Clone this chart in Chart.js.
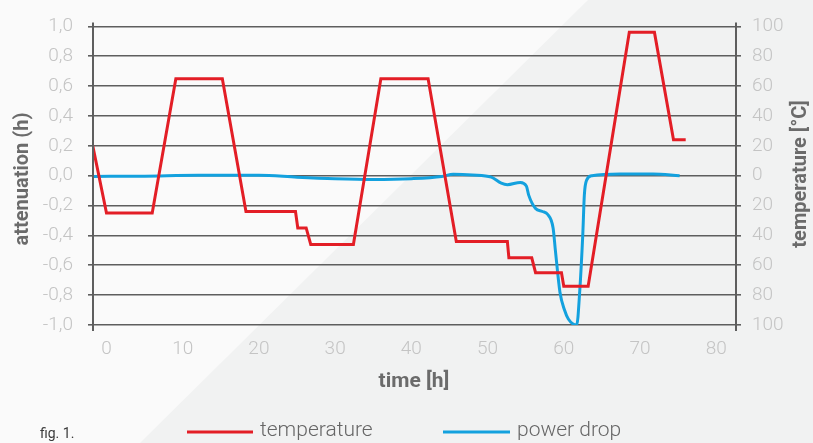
<!DOCTYPE html>
<html>
<head>
<meta charset="utf-8">
<script src="https://cdn.jsdelivr.net/npm/chart.js@4.4.1/dist/chart.umd.min.js"></script>
<style>
  html, body { margin: 0; padding: 0; background: #f7f7f7; }
  #wrap { width: 813px; height: 443px; position: relative; }
</style>
</head>
<body>
<div id="wrap"><canvas id="c" width="813" height="443"></canvas></div>
<script>
// ---- data ----
const tempHours  = [-1.8, 0, 6, 9.1, 15.2, 18.3, 24.8, 25.1, 26.2, 26.8, 32.4, 36.0, 42.2, 45.9, 52.6, 52.8, 55.8, 56.3, 59.7, 60.0, 63.2, 68.6, 71.9, 74.4, 76.0];
const tempValues = [20, -25, -25, 65, 65, -24, -24, -35, -35, -46, -46, 65, 65, -44, -44, -55, -55, -65, -65, -74, -74, 96, 96, 24, 24];

const powerHours  = [-1.8, 5, 12, 20, 25, 30, 35, 40, 44, 45.5, 48, 50.5, 51.8, 52.6, 54.3, 55.1, 55.4, 56.3, 57.2, 57.9, 58.6, 58.9, 59.5, 60.1, 60.6, 61.7, 62.1, 62.5, 62.7, 63.0, 63.7, 67.4, 71.7, 75.2];
const powerValues = [-0.005, -0.003, 0.003, 0.003, -0.01, -0.02, -0.025, -0.02, -0.005, 0.01, 0.005, -0.01, -0.05, -0.06, -0.045, -0.07, -0.13, -0.22, -0.24, -0.26, -0.35, -0.5, -0.78, -0.9, -0.96, -1.0, -0.77, -0.39, -0.13, -0.03, 0.0, 0.011, 0.011, 0.0];

const xTicks = [0, 10, 20, 30, 40, 50, 60, 70, 80];
const leftTicks = [-1, -0.8, -0.6, -0.4, -0.2, 0, 0.2, 0.4, 0.6, 0.8, 1];
const leftLabels = ['-1,0', '-0,8', '-0,6', '-0,4', '-0,2', '0,0', '0,2', '0,4', '0,6', '0,8', '1,0'];
const rightTicks = [-100, -80, -60, -40, -20, 0, 20, 40, 60, 80, 100];
const rightLabels = ['100', '80', '60', '40', '20', '0', '20', '40', '60', '80', '100'];

const seriesNames = ['temperature', 'power drop'];
const seriesColors = ['#e31e26', '#13a1de'];

const tickFont = { family: 'Roboto', size: 19, weight: '300' };
const tickColor = '#c4c4c4';
const gridColor = '#5e5e5e';

const bgPlugin = {
  id: 'bg',
  beforeDraw(chart) {
    const ctx = chart.ctx;
    ctx.save();
    ctx.fillStyle = '#fafafa';
    ctx.fillRect(0, 0, chart.width, chart.height);
    ctx.fillStyle = '#f1f2f2';
    ctx.beginPath();
    ctx.moveTo(588, 0);
    ctx.lineTo(chart.width, 0);
    ctx.lineTo(chart.width, chart.height);
    ctx.lineTo(140, chart.height);
    ctx.closePath();
    ctx.fill();
    ctx.restore();
  }
};

const decoPlugin = {
  id: 'deco',
  afterDraw(chart) {
    const ctx = chart.ctx;
    const a = chart.chartArea;
    ctx.save();
    // axis lines
    ctx.strokeStyle = gridColor;
    ctx.lineWidth = 2;
    ctx.beginPath();
    ctx.moveTo(a.left, a.top - 4); ctx.lineTo(a.left, a.bottom + 6);
    ctx.moveTo(a.right, a.top - 4); ctx.lineTo(a.right, a.bottom + 6);
    ctx.stroke();
    // titles
    ctx.fillStyle = '#6b6b6b';
    ctx.font = 'bold 20px Roboto';
    ctx.textAlign = 'center';
    ctx.textBaseline = 'middle';
    ctx.save();
    ctx.translate(23, 179);
    ctx.rotate(-Math.PI / 2);
    ctx.fillText('attenuation (h)', 0, 0);
    ctx.restore();
    ctx.save();
    ctx.translate(801, 174);
    ctx.rotate(-Math.PI / 2);
    ctx.fillText('temperature [°C]', 0, 0);
    ctx.restore();
    ctx.font = 'bold 21px Roboto';
    ctx.fillText('time [h]', 414, 382);
    // legend
    const legendItems = [
      { x0: 187, x1: 253, tx: 260 },
      { x0: 443, x1: 510, tx: 517 }
    ];
    ctx.font = '300 21px Roboto';
    ctx.textAlign = 'left';
    legendItems.forEach((it, i) => {
      ctx.strokeStyle = seriesColors[i];
      ctx.lineWidth = 3;
      ctx.beginPath();
      ctx.moveTo(it.x0, 432); ctx.lineTo(it.x1, 432);
      ctx.stroke();
      ctx.fillStyle = '#666666';
      ctx.fillText(seriesNames[i], it.tx, 431);
    });
    ctx.fillStyle = '#3a3a3a';
    ctx.font = '14px Roboto';
    ctx.fillText('fig. 1.', 40, 434);
    ctx.restore();
  }
};

new Chart(document.getElementById('c'), {
  type: 'line',
  data: {
    datasets: [
      {
        label: seriesNames[0],
        data: tempHours.map((h, i) => ({ x: h, y: tempValues[i] })),
        yAxisID: 'yT',
        borderColor: seriesColors[0],
        borderWidth: 3,
        pointRadius: 0,
        tension: 0,
        fill: false
      },
      {
        label: seriesNames[1],
        data: powerHours.map((h, i) => ({ x: h, y: powerValues[i] })),
        yAxisID: 'yA',
        borderColor: seriesColors[1],
        borderWidth: 3,
        pointRadius: 0,
        cubicInterpolationMode: 'monotone',
        fill: false
      }
    ]
  },
  options: {
    responsive: false,
    animation: false,
    devicePixelRatio: 1,
    layout: { padding: { top: 22, left: 0, right: 0, bottom: 0 } },
    plugins: { legend: { display: false }, tooltip: { enabled: false } },
    scales: {
      x: {
        type: 'linear',
        min: -1.77,
        max: 82.6,
        afterBuildTicks: s => { s.ticks = xTicks.map(v => ({ value: v })); },
        afterFit: s => { s.height = 118; },
        grid: { display: false, drawTicks: false },
        border: { display: false },
        ticks: { font: tickFont, color: tickColor, padding: 13, maxRotation: 0 }
      },
      yA: {
        type: 'linear',
        position: 'left',
        min: -1,
        max: 1,
        afterBuildTicks: s => { s.ticks = leftTicks.map(v => ({ value: v })); },
        afterFit: s => { s.width = 93; },
        grid: { color: gridColor, lineWidth: 1.6, drawTicks: true, tickLength: 5 },
        border: { display: false },
        ticks: {
          font: tickFont, color: tickColor, padding: 15,
          callback: (v, i) => leftLabels[i]
        }
      },
      yT: {
        type: 'linear',
        position: 'right',
        min: -100,
        max: 100,
        afterBuildTicks: s => { s.ticks = rightTicks.map(v => ({ value: v })); },
        afterFit: s => { s.width = 77; },
        grid: { drawOnChartArea: false, color: gridColor, lineWidth: 1.6, drawTicks: true, tickLength: 5 },
        border: { display: false },
        ticks: {
          font: tickFont, color: tickColor, padding: 11,
          callback: (v, i) => rightLabels[i]
        }
      }
    }
  },
  plugins: [bgPlugin, decoPlugin]
});
</script>
</body>
</html>
